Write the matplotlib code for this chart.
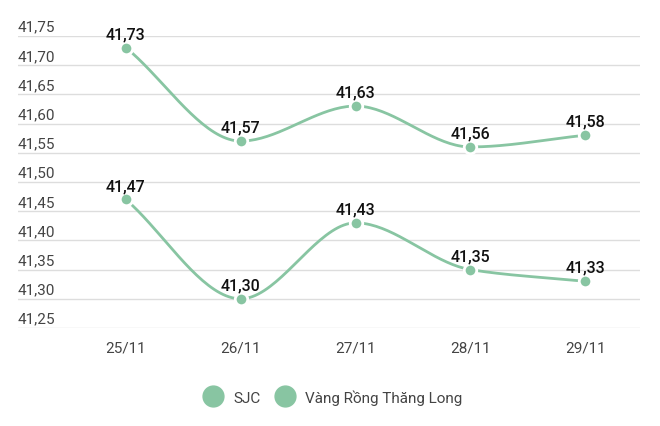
import numpy as np
import matplotlib
matplotlib.use("Agg")
import matplotlib.pyplot as plt
from matplotlib.lines import Line2D

categories = ["25/11", "26/11", "27/11", "28/11", "29/11"]
sjc = [41.73, 41.57, 41.63, 41.56, 41.58]
tl = [41.47, 41.30, 41.43, 41.35, 41.33]
yticks = [41.25, 41.30, 41.35, 41.40, 41.45, 41.50, 41.55, 41.60, 41.65, 41.70, 41.75]
series_names = ["SJC", "Vàng Rồng Thăng Long"]
color = "#88c5a2"

plt.rcParams["font.family"] = "Roboto"

def smooth(y, n=40):
    x = np.arange(len(y), dtype=float); y = np.asarray(y, float)
    d = np.diff(y)
    m = np.zeros_like(y)
    m[0], m[-1] = d[0], d[-1]
    for i in range(1, len(y) - 1):
        m[i] = 0 if d[i-1] * d[i] <= 0 else 2 / (1/d[i-1] + 1/d[i])
    xs, ys = [], []
    for i in range(len(y) - 1):
        t = np.linspace(0, 1, n)
        h00 = 2*t**3 - 3*t**2 + 1; h10 = t**3 - 2*t**2 + t
        h01 = -2*t**3 + 3*t**2; h11 = t**3 - t**2
        xs.append(x[i] + t); ys.append(h00*y[i] + h10*m[i] + h01*y[i+1] + h11*m[i+1])
    return np.concatenate(xs), np.concatenate(ys)

fig = plt.figure(figsize=(6.6, 4.27), dpi=100)
ax = fig.add_axes([0.027, 0.2295, 0.943, 0.684])
ax.set_xlim(-0.941, 4.479)
ax.set_ylim(41.25, 41.75)
for v in yticks:
    ax.axhline(v, color="#dddddd", lw=1, zorder=0)
    ax.text(-0.941, v + 0.004, f"{v:.2f}".replace(".", ","), ha="left", va="bottom",
            fontsize=11, color="#444444")
for s in ax.spines.values():
    s.set_visible(False)
ax.set_yticks([])
ax.set_xticks(range(len(categories)))
ax.set_xticklabels(categories, fontsize=11, color="#444444")
ax.tick_params(axis="x", length=0, pad=9)

for ser in (sjc, tl):
    xs, ys = smooth(ser)
    ax.plot(xs, ys, color=color, lw=2, zorder=2)
    ax.plot(range(len(ser)), ser, "o", color=color, ms=9, mec="white", mew=2, zorder=3)
    for i, v in enumerate(ser):
        ax.text(i, v + 0.011, f"{v:.2f}".replace(".", ","), ha="center", va="bottom",
                fontsize=11.5, fontweight="medium", color="#111111", zorder=4)

handles = [Line2D([], [], ls="", marker="o", ms=15, color=color) for _ in series_names]
fig.legend(handles, series_names, loc="center", bbox_to_anchor=(0.5, 0.068), ncol=2,
           frameon=False, fontsize=11, handletextpad=0.3, columnspacing=0.6,
           labelcolor="#444444")
fig.savefig("out.png", dpi=100)
